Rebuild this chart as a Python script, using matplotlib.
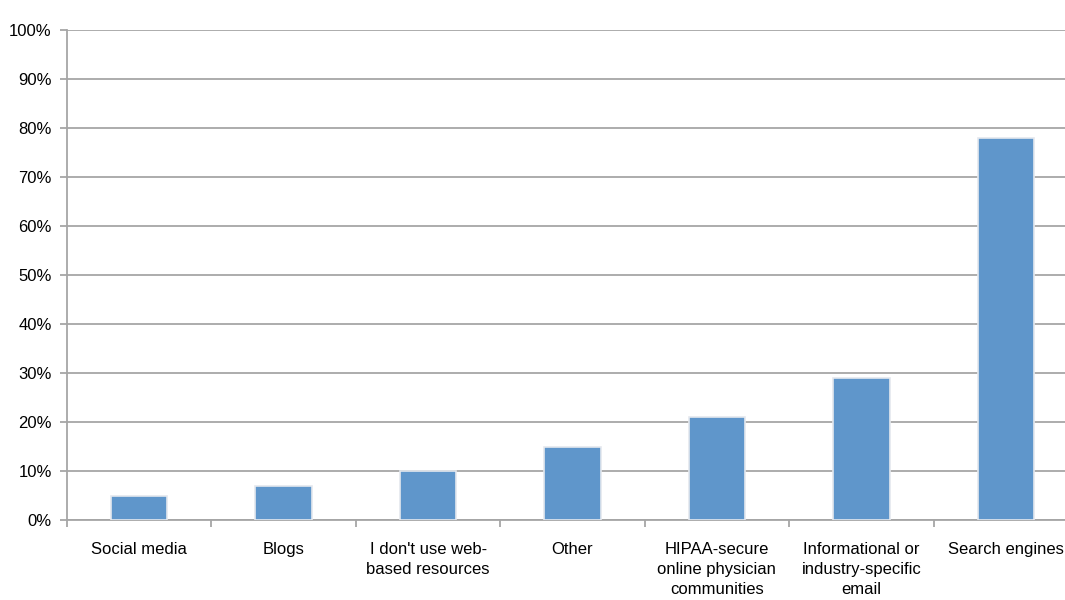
import numpy as np
import matplotlib.pyplot as plt
from matplotlib.ticker import FuncFormatter

categories = ['Social media', 'Blogs', "I don't use web-\nbased resources", 'Other',
              'HIPAA-secure\nonline physician\ncommunities',
              'Informational or\nindustry-specific\nemail', 'Search engines']
values = [5, 7, 10, 15, 21, 29, 78]

plt.rcParams['font.family'] = ['Liberation Sans', 'DejaVu Sans']

fig = plt.figure(figsize=(10.65, 6), dpi=100)
# plot area runs a little past the right edge, as in the source
ax = fig.add_axes([67/1065, 80/600, 1011/1065, 490/600])

x = np.arange(len(categories))
ax.bar(x, values, width=0.39, color='#5f96cb', edgecolor='#e4e8ee', linewidth=1.2, zorder=3)

ax.set_xlim(-0.5, len(categories) - 0.5)
ax.set_ylim(0, 100)
ax.set_yticks(np.arange(0, 101, 10))
ax.yaxis.set_major_formatter(FuncFormatter(lambda v, p: '%d%%' % v))
ax.grid(axis='y', color='#a6a6a6', linewidth=1.3, zorder=1)

ax.set_xticks(x)
ax.set_xticklabels(categories, fontsize=12, linespacing=1.4, va='top')
ax.set_xticks(np.arange(-0.5, len(categories), 1), minor=True)
ax.tick_params(axis='x', which='major', length=0, pad=16)
ax.tick_params(axis='x', which='minor', length=5, color='#a6a6a6', width=1.3, direction='out')
ax.tick_params(axis='y', length=5, color='#a6a6a6', width=1.3, labelsize=12, pad=6)

for s in ['top', 'right']:
    ax.spines[s].set_visible(False)
for s in ['left', 'bottom']:
    ax.spines[s].set_color('#a6a6a6')
    ax.spines[s].set_linewidth(1.3)

fig.savefig('out.png', dpi=100)
